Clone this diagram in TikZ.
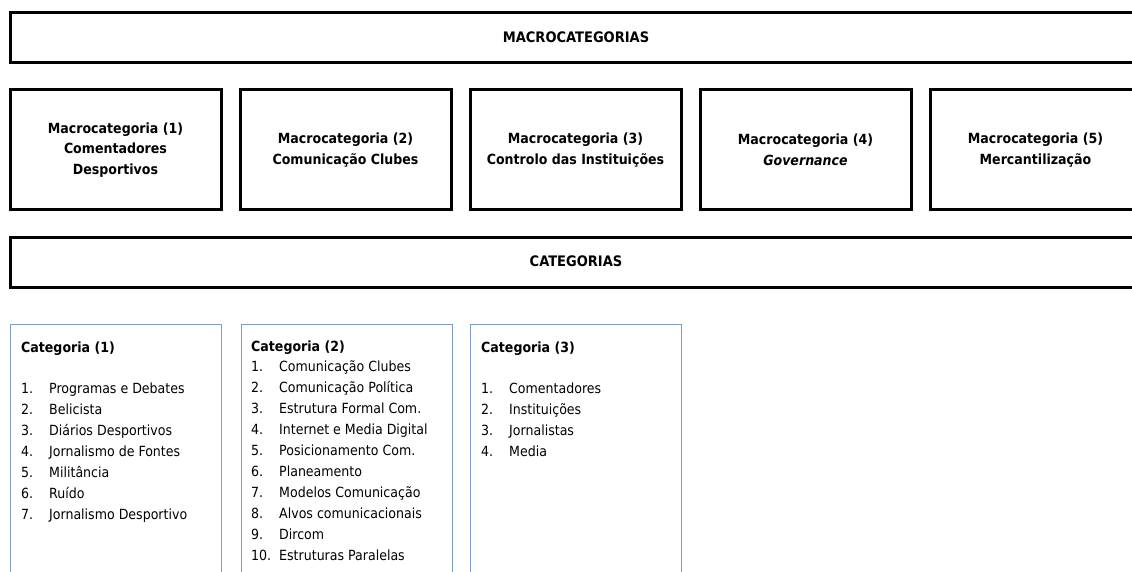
\documentclass[tikz,border=0pt]{standalone}
\usepackage{fontspec}
\setmainfont{DejaVu Sans Condensed}
\usepackage{xcolor}
\usetikzlibrary{calc}
\definecolor{catblue}{RGB}{128,157,194}
\newcommand{\itm}[2]{\makebox[28pt][l]{#1}#2}

\begin{document}
\begin{tikzpicture}[x=1pt,y=-1pt,
	bar/.style={draw, line width=3pt, minimum width=1132pt, minimum height=50pt, text depth=1pt, font=\fontsize{14.5}{16}\selectfont\bfseries},
	macrobox/.style={draw, line width=3pt, minimum width=211pt, minimum height=120pt, align=center, font=\fontsize{14}{20.5}\selectfont\bfseries},
	catbox/.style={draw=catblue, line width=1.2pt, anchor=north west, minimum width=211pt, minimum height=290pt},
	catlist/.style={anchor=north west, align=left, inner sep=0pt, font=\fontsize{14}{21}\selectfont}]
	\useasboundingbox (0,0) rectangle (1132,572);
	\clip (0,0) rectangle (1132,572);
	\node[bar] (macro) at (576,37.5) {MACROCATEGORIAS};
	\node[macrobox] (m1) at (115.5,150) {Macrocategoria (1)\\Comentadores\\Desportivos};
	\node[macrobox] (m2) at (345.5,150) {Macrocategoria (2)\\Comunicação Clubes};
	\node[macrobox] (m3) at (575.5,150) {Macrocategoria (3)\\Controlo das Instituições};
	\node[macrobox] (m4) at (805.5,150) {Macrocategoria (4)\\\textit{Governance}};
	\node[macrobox] (m5) at (1035.5,150) {Macrocategoria (5)\\Mercantilização};
	\node[bar] (cats) at (576,262) {CATEGORIAS};
	%%%%%
	\node[catbox] (c1) at (10,324) {};
	\node[catbox] (c2) at (241,324) {};
	\node[catbox] (c3) at (470,324) {};
	\node[catlist] (l1) at ($(c1.north west)+(11,18)$) {\textbf{Categoria (1)}\\[20pt]
		\itm{1.}{Programas e Debates}\\
		\itm{2.}{Belicista}\\
		\itm{3.}{Diários Desportivos}\\
		\itm{4.}{Jornalismo de Fontes}\\
		\itm{5.}{Militância}\\
		\itm{6.}{Ruído}\\
		\itm{7.}{Jornalismo Desportivo}};
	\node[catlist] (l2) at ($(c2.north west)+(10,17)$) {\textbf{Categoria (2)}\\[-1pt]
		\itm{1.}{Comunicação Clubes}\\
		\itm{2.}{Comunicação Política}\\
		\itm{3.}{Estrutura Formal Com.}\\
		\itm{4.}{Internet e Media Digital}\\
		\itm{5.}{Posicionamento Com.}\\
		\itm{6.}{Planeamento}\\
		\itm{7.}{Modelos Comunicação}\\
		\itm{8.}{Alvos comunicacionais}\\
		\itm{9.}{Dircom}\\
		\itm{10.}{Estruturas Paralelas}};
	\node[catlist] (l3) at ($(c3.north west)+(11,18)$) {\textbf{Categoria (3)}\\[20pt]
		\itm{1.}{Comentadores}\\
		\itm{2.}{Instituições}\\
		\itm{3.}{Jornalistas}\\
		\itm{4.}{Media}};
\end{tikzpicture}
\end{document}
